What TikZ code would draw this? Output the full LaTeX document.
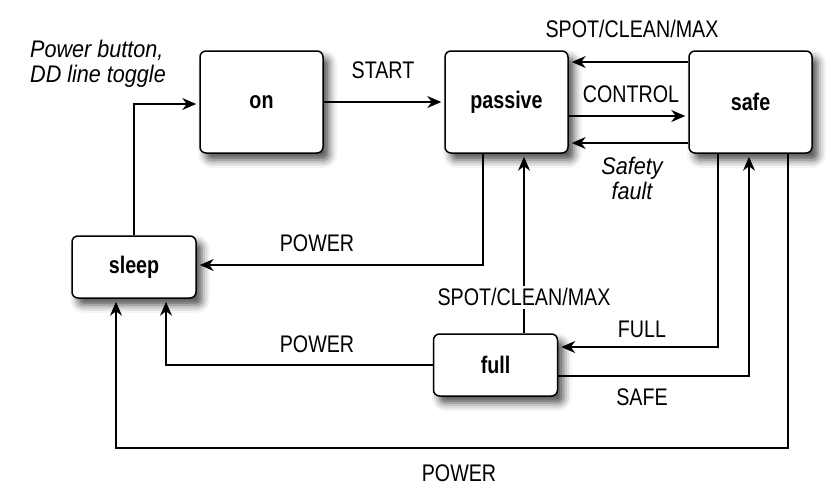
\documentclass[tikz,border=0pt]{standalone}
\usepackage{fontspec}
\setmainfont{Liberation Sans}[FakeStretch=0.82, ItalicFeatures={FakeStretch=0.9}]
\usepackage{tikz}
\usetikzlibrary{arrows.meta,shadows.blur}
\tikzset{
  boxnode/.style = {align=center, inner sep=0pt, text centered,
    font=\fontsize{24}{26}\selectfont\bfseries},
  mode_big/.style = {boxnode, rectangle, rounded corners=6pt, draw=black,
    line width=1.5pt, fill=white, minimum width=123pt, minimum height=102pt,
    blur shadow={shadow xshift=6pt, shadow yshift=-7pt,
      shadow blur radius=8pt, shadow opacity=70}},% grand mode
  mode_small/.style = {mode_big, minimum width=124pt, minimum height=62pt},% petit mode
  trans/.style = {-{Stealth[length=14pt,width=12pt,inset=4.5pt]},
    line width=1.6pt, shorten >=3pt},% transition
  lbl/.style = {font=\fontsize{24}{25}\selectfont, inner sep=1pt},
  lbl_it/.style = {lbl, font=\fontsize{24}{25}\selectfont\itshape}
}

\begin{document}
\begin{tikzpicture}[x=1pt, y=-1pt]
	\useasboundingbox (0,0) rectangle (826,490);
	% modes
	\node [mode_big] (on) at (261.5,102) {on};
	\node [mode_big] (passive) at (506.5,102) {passive};
	\node [mode_big] (safe) at (750.5,102) {safe};
	\node [mode_small] (sleep) at (134,267) {sleep};
	\node [mode_small] (full) at (495.5,365) {full};
	\coordinate (bottom) at (116,448);

	% transitions
	\draw [trans] (sleep.north) |- ([yshift=-2pt]on.west);
	\draw [trans] (on) -- (passive);
	\draw [trans] ([yshift=40pt]safe.west) -- ([yshift=40pt]passive.east);
	\draw [trans] ([yshift=-14pt]passive.east) -- ([yshift=-14pt]safe.west);
	\draw [trans] ([yshift=-41pt]safe.west) -- ([yshift=-41pt]passive.east);
	\draw [trans] ([xshift=-23.5pt]passive.south) |- ([yshift=2pt]sleep.east);
	\draw [trans] ([xshift=28.5pt]full.north) -- ([xshift=28.5pt]full.north |- passive.south)
		node [lbl, pos=0.2, fill=white, inner sep=3pt] (l_spot2) {SPOT/CLEAN/MAX};
	\draw [trans] (full.west) -| ([xshift=32pt]sleep.south);
	\draw [trans] ([xshift=-32.5pt]safe.south) |- ([yshift=18pt]full.east);
	\draw [trans] ([yshift=-11pt]full.east) -| ([xshift=-1.5pt]safe.south);
	\draw [trans] ([xshift=37.5pt]safe.south) |- (bottom) -- ([xshift=-18pt]sleep.south);

	% labels
	\node [lbl_it, align=left] (l_button) at (98,64) {Power button,\\DD line toggle};
	\node [lbl] (l_start) at (383,70) {START};
	\node [lbl] (l_spot1) at (632,29) {SPOT/CLEAN/MAX};
	\node [lbl] (l_control) at (631,94) {CONTROL};
	\node [lbl_it, align=center] (l_fault) at (632,178) {Safety\\fault};
	\node [lbl] (l_power1) at (317,243) {POWER};
	\node [lbl] (l_power2) at (317,344) {POWER};
	\node [lbl] (l_full) at (642,329) {FULL};
	\node [lbl] (l_safe) at (642,397) {SAFE};
	\node [lbl] (l_power3) at (459,473) {POWER};
\end{tikzpicture}
\end{document}
